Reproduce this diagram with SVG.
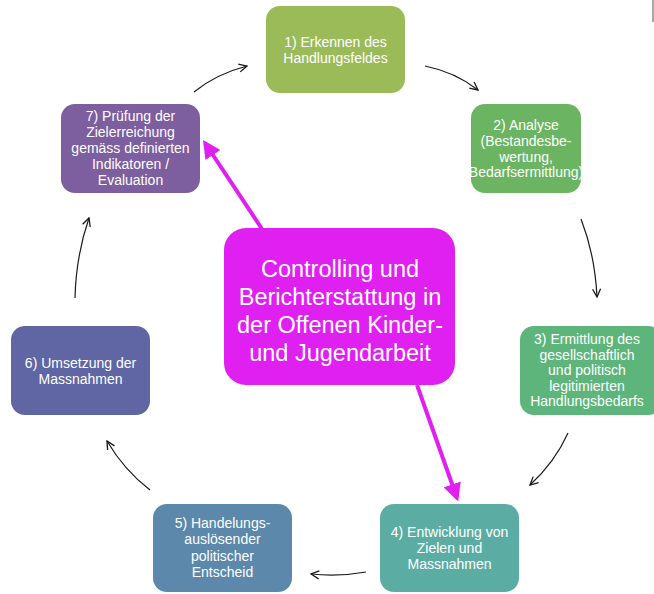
<svg xmlns="http://www.w3.org/2000/svg" width="654" height="594" viewBox="0 0 654 594">
<style>
.n text{font-family:"Liberation Sans",Arial,sans-serif;font-size:14px;fill:#ffffff;text-anchor:middle}
.c text{font-family:"Liberation Sans",Arial,sans-serif;font-size:23.5px;fill:#ffffff;text-anchor:middle}
.a{fill:none;stroke:#1a1a1a;stroke-width:1.2;marker-end:url(#ah)}
.m{fill:none;stroke:#E020F0;stroke-width:4;marker-end:url(#mh)}
</style>
<defs>
<marker id="ah" viewBox="0 0 10 10" refX="9" refY="5" markerWidth="10" markerHeight="10" markerUnits="userSpaceOnUse" orient="auto">
<path d="M1,1 L9,5 L1,9" fill="none" stroke="#1a1a1a" stroke-width="1.3"/>
</marker>
<marker id="mh" viewBox="0 0 10 10" refX="8" refY="5" markerWidth="18" markerHeight="18" markerUnits="userSpaceOnUse" orient="auto">
<path d="M0,0 L10,5 L0,10 Z" fill="#E020F0"/>
</marker>
<clipPath id="c2"><rect x="471" y="104" width="110" height="89" rx="14"/></clipPath>
</defs>
<rect width="654" height="594" fill="#ffffff"/>
<line x1="653" y1="0" x2="653" y2="22" stroke="#555" stroke-width="1"/>
<g id="connectors">
<path class="a" d="M194,92 Q216,74 247,66"/>
<path class="a" d="M425,66 Q455,72 478,90"/>
<path class="a" d="M581,219 Q595,255 597,297"/>
<path class="a" d="M568,433 Q555,462 530,485"/>
<path class="a" d="M366,572 Q338,577 311,574"/>
<path class="a" d="M150,490 Q124,470 107,441"/>
<path class="a" d="M75,298 Q76,256 89,218"/>
<path class="m" d="M262,229 L205,143"/>
<path class="m" d="M417,385 L457,498"/>
</g>
<g id="node1" class="n">
<rect x="266" y="6" width="139" height="87" rx="14" fill="#9BBB59"/>
<text x="335.5" y="47">1) Erkennen des</text>
<text x="335.5" y="63">Handlungsfeldes</text>
</g>
<g id="node2" class="n">
<rect x="471" y="104" width="110" height="89" rx="14" fill="#6BB462"/>
<g clip-path="url(#c2)">
<text x="526" y="130">2) Analyse</text>
<text x="526" y="146">(Bestandesbe-</text>
<text x="526" y="162">wertung,</text>
<text x="526" y="177">Bedarfsermittlung)</text>
</g>
</g>
<g id="node3" class="n">
<rect x="520" y="326" width="142" height="89" rx="14" fill="#5DB57C"/>
<text x="587" y="344">3) Ermittlung des</text>
<text x="587" y="359.5">gesellschaftlich</text>
<text x="587" y="375">und politisch</text>
<text x="587" y="391">legitimierten</text>
<text x="587" y="406">Handlungsbedarfs</text>
</g>
<g id="node4" class="n">
<rect x="380" y="504" width="139" height="88" rx="14" fill="#5BADA3"/>
<text x="449.5" y="537">4) Entwicklung von</text>
<text x="449.5" y="553">Zielen und</text>
<text x="449.5" y="569">Massnahmen</text>
</g>
<g id="node5" class="n">
<rect x="153" y="504" width="139" height="88" rx="14" fill="#5B88AB"/>
<text x="222.5" y="528">5) Handelungs-</text>
<text x="222.5" y="544">auslösender</text>
<text x="222.5" y="561">politischer</text>
<text x="222.5" y="577">Entscheid</text>
</g>
<g id="node6" class="n">
<rect x="11" y="326" width="139" height="89" rx="14" fill="#5F66A3"/>
<text x="80.5" y="368">6) Umsetzung der</text>
<text x="80.5" y="384">Massnahmen</text>
</g>
<g id="node7" class="n">
<rect x="61" y="104" width="139" height="89" rx="14" fill="#7D5E9F"/>
<text x="130.5" y="121">7) Prüfung der</text>
<text x="130.5" y="137">Zielerreichung</text>
<text x="130.5" y="153">gemäss definierten</text>
<text x="130.5" y="169">Indikatoren /</text>
<text x="130.5" y="185">Evaluation</text>
</g>
<g id="center" class="c">
<rect x="224" y="228" width="231" height="157" rx="22" fill="#E020F0"/>
<text x="340" y="277">Controlling und</text>
<text x="340" y="305">Berichterstattung in</text>
<text x="340" y="333">der Offenen Kinder-</text>
<text x="340" y="361">und Jugendarbeit</text>
</g>
</svg>
